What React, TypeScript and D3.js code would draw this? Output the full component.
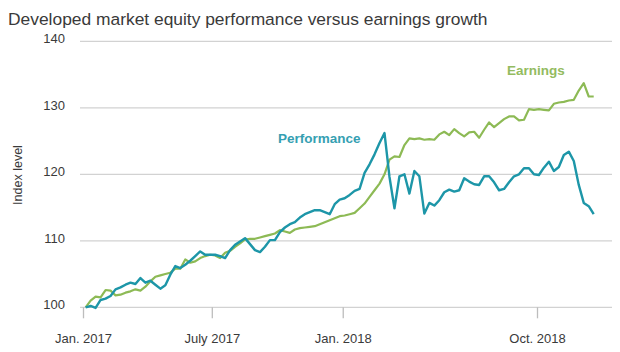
import * as d3 from "d3";

// ---------------------------------------------------------------------------
// Data (weekly index levels, Jan. 2017 = 100)
// ---------------------------------------------------------------------------

const TITLE = "Developed market equity performance versus earnings growth";
const Y_LABEL = "Index level";

const FIRST_WEEK = new Date(2017, 0, 4);

const PERFORMANCE = [
  100.0, 100.2, 99.9, 101.1, 101.3, 101.7, 102.7, 103.0, 103.4, 103.7,
  103.5, 104.4, 103.7, 104.0, 103.4, 102.8, 103.3, 104.9, 106.2, 105.9,
  106.4, 107.0, 107.7, 108.4, 107.9, 107.9, 107.9, 107.7, 107.4, 108.6,
  109.4, 109.9, 110.4, 109.5, 108.6, 108.3, 109.1, 110.1, 110.1, 111.3,
  112.0, 112.5, 112.8, 113.5, 114.0, 114.3, 114.6, 114.6, 114.3, 114.0,
  115.5, 116.2, 116.4, 116.9, 117.5, 117.8, 120.2, 121.5, 123.0, 124.7,
  126.2, 119.6, 114.9, 119.7, 120.0, 117.1, 120.5, 119.7, 114.1, 115.7,
  115.3, 116.1, 117.3, 117.7, 117.4, 117.6, 119.4, 118.9, 118.5, 118.4,
  119.7, 119.7, 118.8, 117.6, 117.8, 118.8, 119.7, 120.0, 120.9, 120.9,
  120.0, 119.9, 121.0, 121.9, 120.5, 121.1, 122.9, 123.4, 122.0, 118.4,
  115.7, 115.2, 114.0,
];

const EARNINGS = [
  100.0, 101.0, 101.6, 101.5, 102.6, 102.5, 101.8, 101.9, 102.2, 102.4,
  102.7, 102.5, 103.1, 103.9, 104.6, 104.8, 105.0, 105.2, 105.8, 105.8,
  107.2, 106.7, 106.9, 107.4, 107.7, 107.9, 107.8, 107.4, 108.2, 108.5,
  109.1, 109.6, 110.2, 110.3, 110.3, 110.5, 110.7, 110.9, 111.1, 111.6,
  111.4, 111.2, 111.7, 111.9, 112.0, 112.1, 112.2, 112.5, 112.8, 113.1,
  113.4, 113.7, 113.8, 114.0, 114.2, 114.9, 115.6, 116.6, 117.6, 118.6,
  120.0, 122.2, 122.7, 122.6, 124.4, 125.4, 125.3, 125.4, 125.2, 125.3,
  125.2, 126.0, 126.4, 125.9, 126.8, 126.2, 125.7, 126.3, 126.4, 125.5,
  126.7, 127.8, 127.1, 127.7, 128.3, 128.7, 128.7, 128.1, 128.2, 129.8,
  129.7, 129.8, 129.7, 129.6, 130.6, 130.8, 130.9, 131.1, 131.2, 132.6,
  133.7, 131.7, 131.7,
];

const X_TICK_DATES = [
  new Date(2017, 0, 1),
  new Date(2017, 6, 1),
  new Date(2018, 0, 1),
  new Date(2018, 9, 1),
];
const X_TICK_LABELS = ["Jan. 2017", "July 2017", "Jan. 2018", "Oct. 2018"];
const Y_TICKS = [100, 110, 120, 130, 140];

// ---------------------------------------------------------------------------
// Style
// ---------------------------------------------------------------------------

const W = 620;
const H = 352;
const FONT = "'Liberation Sans', Arial, sans-serif";
const TEAL = "#1d96a8";
const GREEN = "#8dba55";
const GRID = "#d2d2d2";
const TEXT = "#3a3a3a";

const PLOT_LEFT = 80;
const PLOT_RIGHT = 612;

export default function App() {
  const x = d3
    .scaleTime()
    .domain([X_TICK_DATES[0], X_TICK_DATES[3]])
    .range([83.5, 537.5]);
  const y = d3.scaleLinear().domain([100, 140]).range([307.3, 41.3]);

  const weekDate = (i: number) => d3.timeDay.offset(FIRST_WEEK, i * 7);

  const line = d3
    .line<number>()
    .x((_, i) => x(weekDate(i)))
    .y((v) => y(v))
    .curve(d3.curveLinear);

  return (
    <svg
      width={W}
      height={H}
      style={{ position: "absolute", left: 0, top: 0, background: "#fff" }}
      fontFamily={FONT}
    >
      <rect width={W} height={H} fill="#fff" />

      <text x={8} y={25} fontSize={17.4} fill={TEXT}>
        {TITLE}
      </text>

      {/* gridlines + y labels */}
      {Y_TICKS.map((t) => (
        <g key={t}>
          <line
            x1={PLOT_LEFT}
            x2={PLOT_RIGHT}
            y1={y(t)}
            y2={y(t)}
            stroke={GRID}
            strokeWidth={1.3}
          />
          <text
            x={65}
            y={y(t) + 2}
            textAnchor="end"
            fontSize={13}
            fill={TEXT}
          >
            {t}
          </text>
        </g>
      ))}

      <text
        transform={`translate(22,175) rotate(-90)`}
        textAnchor="middle"
        fontSize={12.5}
        fill={TEXT}
      >
        {Y_LABEL}
      </text>

      {/* x ticks */}
      {X_TICK_DATES.map((d, i) => (
        <g key={i}>
          <line
            x1={x(d)}
            x2={x(d)}
            y1={y(100)}
            y2={y(100) + 11}
            stroke="#bdbdbd"
            strokeWidth={1.3}
          />
          <text
            x={x(d)}
            y={343}
            textAnchor="middle"
            fontSize={13}
            fill={TEXT}
          >
            {X_TICK_LABELS[i]}
          </text>
        </g>
      ))}

      {/* series */}
      <path
        d={line(EARNINGS) ?? ""}
        fill="none"
        stroke={GREEN}
        strokeWidth={2.2}
        strokeLinejoin="round"
      />
      <path
        d={line(PERFORMANCE) ?? ""}
        fill="none"
        stroke={TEAL}
        strokeWidth={2.4}
        strokeLinejoin="round"
      />

      {/* direct labels */}
      <text x={278} y={143} fontSize={13.5} fontWeight={700} fill="#35a0b2">
        Performance
      </text>
      <text x={507} y={75} fontSize={13.5} fontWeight={700} fill="#93bb60">
        Earnings
      </text>
    </svg>
  );
}
